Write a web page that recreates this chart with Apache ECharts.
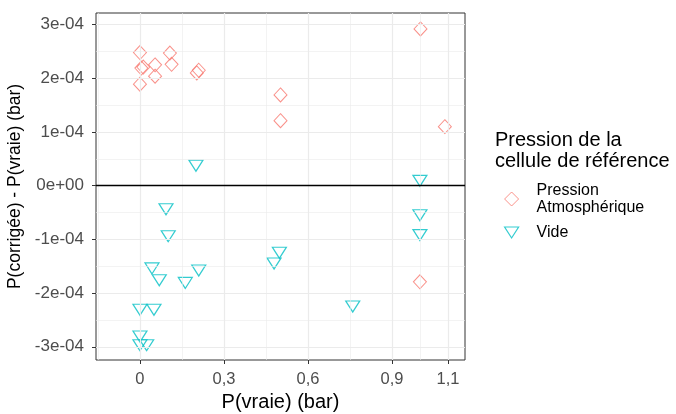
<!DOCTYPE html>
<html>
<head>
<meta charset="utf-8">
<script src="https://cdn.jsdelivr.net/npm/echarts@6/dist/echarts.min.js"></script>
<style>html,body{margin:0;padding:0;background:#fff}#c{width:676px;height:414px}</style>
</head>
<body>
<div id="c"></div>
<script>
// Data
const xAtm = [0, 0.005, 0.012, 0, 0.054, 0.054, 0.107, 0.113, 0.203, 0.21, 0.502, 0.502, 1.002, 1.089, 1.0];
const yAtm = [2.48e-4, 2.19e-4, 2.21e-4, 1.89e-4, 2.25e-4, 2.04e-4, 2.47e-4, 2.26e-4, 2.10e-4, 2.15e-4, 1.69e-4, 1.21e-4, 2.92e-4, 1.10e-4, -1.79e-4];
const xVide = [0.2, 0.093, 0.101, 0.043, 0.069, 0.162, 0.21, 0, 0.05, 0, 0, 0.024, 1.0, 1.0, 1.0, 0.498, 0.479, 0.76];
const yVide = [0.37e-4, -0.44e-4, -0.94e-4, -1.54e-4, -1.76e-4, -1.81e-4, -1.58e-4, -2.31e-4, -2.31e-4, -2.81e-4, -2.97e-4, -2.97e-4, 0.09e-4, -0.55e-4, -0.92e-4, -1.25e-4, -1.45e-4, -2.25e-4];
const seriesNames = ['Pression\nAtmosphérique', 'Vide'];
const xTicks = [0, 0.3, 0.6, 0.9, 1.1];
const xMinor = [-0.15, 0.15, 0.45, 0.75, 1.0];
const yTicks = [-3e-4, -2e-4, -1e-4, 0, 1e-4, 2e-4, 3e-4];
const yMinor = [-2.5e-4, -1.5e-4, -0.5e-4, 0.5e-4, 1.5e-4, 2.5e-4];
const xRange = [-0.157, 1.161];
const yRange = [-3.246e-4, 3.216e-4];

const FONT = 'Liberation Sans, Arial, sans-serif';
const chart = echarts.init(document.getElementById('c'), null, {renderer: 'canvas'});

const minorStyle = {color: '#EBEBEB', width: 0.6, type: 'solid'};
const majorStyle = {color: '#EBEBEB', width: 1.2, type: 'solid'};
const xGrid = xMinor.map(v => ({xAxis: v, lineStyle: minorStyle})).concat(xTicks.map(v => ({xAxis: v, lineStyle: majorStyle})));
const yGrid = yMinor.map(v => ({yAxis: v, lineStyle: minorStyle})).concat(yTicks.map(v => ({yAxis: v, lineStyle: majorStyle})));

function lineSeries(name, data, z) {
  return {
    type: 'scatter', name: name, data: [], z: z, silent: true,
    markLine: {silent: true, symbol: 'none', precision: 10, label: {show: false}, animation: false, data: data}
  };
}

chart.setOption({
  animation: false,
  textStyle: {fontFamily: FONT},
  title: {
    text: 'Pression de la\ncellule de référence',
    left: 495, top: 130, padding: 0,
    textStyle: {fontFamily: FONT, fontSize: 20, lineHeight: 21, fontWeight: 'normal', color: '#000'}
  },
  legend: {
    orient: 'vertical',
    left: 504, top: 182, padding: 0,
    itemWidth: 14, itemHeight: 14, itemGap: 8,
    data: [
      {name: seriesNames[0], icon: 'diamond', itemStyle: {color: 'rgba(255,255,255,0)', borderColor: '#F8766D', borderWidth: 1}},
      {name: seriesNames[1], icon: 'path://M0,0 L14,0 L7,11 Z', itemStyle: {color: 'rgba(255,255,255,0)', borderColor: '#00BFC4', borderWidth: 1.2}}
    ],
    textStyle: {fontFamily: FONT, fontSize: 16, lineHeight: 17, color: '#000', padding: [0, 0, 0, 13]}
  },
  grid: {left: 96, top: 13, right: 211, bottom: 54, outerBoundsMode: 'none', containLabel: false,
    show: true, borderColor: '#333333', borderWidth: 1, backgroundColor: 'transparent'},
  xAxis: {
    type: 'value', min: xRange[0], max: xRange[1],
    name: 'P(vraie) (bar)', nameLocation: 'middle', nameGap: 29,
    nameTextStyle: {fontFamily: FONT, fontSize: 20, color: '#000'},
    axisLine: {show: false, onZero: false},
    splitLine: {show: false},
    axisTick: {show: true, customValues: xTicks, length: 4, lineStyle: {color: '#333333'}},
    axisLabel: {customValues: xTicks, margin: 11, fontFamily: FONT, fontSize: 16.5, color: '#4D4D4D',
      formatter: v => String(Math.round(v * 10) / 10).replace('.', ',')}
  },
  yAxis: {
    type: 'value', min: yRange[0], max: yRange[1],
    name: 'P(corrigée) - P(vraie) (bar)', nameLocation: 'middle', nameGap: 66,
    nameTextStyle: {fontFamily: FONT, fontSize: 17.5, color: '#000'},
    axisLine: {show: false, onZero: false},
    splitLine: {show: false},
    axisTick: {show: true, customValues: yTicks, length: 4, lineStyle: {color: '#333333'}},
    axisLabel: {customValues: yTicks, margin: 12, fontFamily: FONT, fontSize: 17, color: '#4D4D4D',
      formatter: v => { const n = Math.round(v * 1e4); return n === 0 ? '0e+00' : n + 'e-04'; }}
  },
  series: [
    lineSeries('_xgrid', xGrid, 0),
    lineSeries('_ygrid', yGrid, 0),
    lineSeries('_zero', [{yAxis: 0, lineStyle: {color: '#000', width: 1.3, type: 'solid'}}], 1),
    {
      type: 'scatter', name: seriesNames[0], z: 3,
      data: xAtm.map((x, i) => [x, yAtm[i]]),
      symbol: 'diamond', symbolSize: [13, 14],
      itemStyle: {color: 'rgba(255,255,255,0)', borderColor: '#F8766D', borderWidth: 1}
    },
    {
      type: 'scatter', name: seriesNames[1], z: 3,
      data: xVide.map((x, i) => [x, yVide[i]]),
      symbol: 'triangle', symbolRotate: 180, symbolSize: [14, 11],
      itemStyle: {color: 'rgba(255,255,255,0)', borderColor: '#00BFC4', borderWidth: 1.2}
    }
  ]
});
</script>
</body>
</html>
